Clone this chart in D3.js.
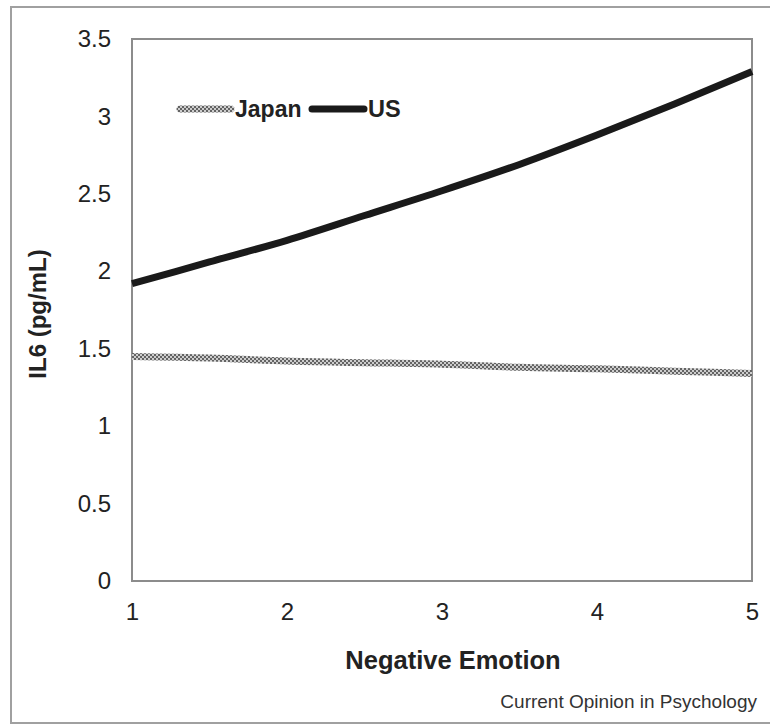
<!DOCTYPE html>
<html>
<head>
<meta charset="utf-8">
<script src="https://cdn.jsdelivr.net/npm/d3@7"></script>
<style>
  html, body { margin: 0; padding: 0; background: #fff; }
  svg { display: block; }
  text { font-family: Arial, "Liberation Sans", Helvetica, sans-serif; }
</style>
</head>
<body>
<svg id="chart" width="770" height="726"></svg>
<script>
// ---- data ----
const xValues = [1, 1.5, 2, 2.5, 3, 3.5, 4, 4.5, 5];
const usValues = [1.92, 2.06, 2.20, 2.36, 2.52, 2.69, 2.88, 3.08, 3.29];
const japanValues = [1.45, 1.44, 1.42, 1.41, 1.40, 1.38, 1.37, 1.355, 1.34];
const xTicks = [1, 2, 3, 4, 5];
const yTicks = [0, 0.5, 1, 1.5, 2, 2.5, 3, 3.5];
const seriesNames = ["Japan", "US"];
const xTitle = "Negative Emotion";
const yTitle = "IL6 (pg/mL)";
const source = "Current Opinion in Psychology";

const svg = d3.select("#chart");
const pLeft = 132, pRight = 752, pTop = 39, pBottom = 581;

const x = d3.scaleLinear().domain([1, 5]).range([pLeft, pRight]);
const y = d3.scaleLinear().domain([0, 3.5]).range([pBottom, pTop]);

// pattern for Japan line
const defs = svg.append("defs");
const pat = defs.append("pattern")
  .attr("id", "checker").attr("patternUnits", "userSpaceOnUse")
  .attr("width", 4).attr("height", 4);
pat.append("rect").attr("width", 4).attr("height", 4).attr("fill", "#cdcdcd");
pat.append("rect").attr("x", 0).attr("y", 0).attr("width", 2).attr("height", 2).attr("fill", "#636363");
pat.append("rect").attr("x", 2).attr("y", 2).attr("width", 2).attr("height", 2).attr("fill", "#636363");

// outer border
svg.append("rect").attr("x", 11).attr("y", 7).attr("width", 780).attr("height", 716)
  .attr("fill", "none").attr("stroke", "#a0a0a0").attr("stroke-width", 2);

// plot frame
svg.append("rect").attr("x", pLeft).attr("y", pTop).attr("width", pRight - pLeft).attr("height", pBottom - pTop)
  .attr("fill", "none").attr("stroke", "#8c8c8c").attr("stroke-width", 2);

// axes (labels only, no ticks)
const xAxis = d3.axisBottom(x).tickValues(xTicks).tickSize(0).tickPadding(22).tickFormat(d3.format("d"));
const gx = svg.append("g").attr("transform", `translate(0,${pBottom})`).call(xAxis);
gx.select(".domain").remove();
gx.selectAll("text").attr("font-size", 24).attr("fill", "#222").style("font-family", "Arial, 'Liberation Sans', sans-serif");

const yAxis = d3.axisLeft(y).tickValues(yTicks).tickSize(0).tickPadding(21).tickFormat(d => String(d));
const gy = svg.append("g").attr("transform", `translate(${pLeft},0)`).call(yAxis);
gy.select(".domain").remove();
gy.selectAll("text").attr("font-size", 24).attr("fill", "#222").style("font-family", "Arial, 'Liberation Sans', sans-serif");

// lines
const line = d3.line().x((d, i) => x(xValues[i])).y(d => y(d)).curve(d3.curveMonotoneX);
svg.append("path").datum(japanValues).attr("d", line)
  .attr("fill", "none").attr("stroke", "url(#checker)").attr("stroke-width", 7);
svg.append("path").datum(usValues).attr("d", line)
  .attr("fill", "none").attr("stroke", "#1a1a1a").attr("stroke-width", 7);

// legend
const lg = svg.append("g");
lg.append("line").attr("x1", 180).attr("x2", 231).attr("y1", 109).attr("y2", 109)
  .attr("stroke", "url(#checker)").attr("stroke-width", 7).attr("stroke-linecap", "round");
lg.append("text").attr("x", 235).attr("y", 117).attr("font-size", 23).attr("font-weight", "bold")
  .attr("fill", "#222").text(seriesNames[0]);
lg.append("line").attr("x1", 312).attr("x2", 364).attr("y1", 109).attr("y2", 109)
  .attr("stroke", "#1a1a1a").attr("stroke-width", 7).attr("stroke-linecap", "round");
lg.append("text").attr("x", 368).attr("y", 117).attr("font-size", 23.5).attr("font-weight", "bold")
  .attr("fill", "#222").text(seriesNames[1]);

// axis titles
svg.append("text").attr("x", 453).attr("y", 669).attr("text-anchor", "middle")
  .attr("font-size", 25.5).attr("font-weight", "bold").attr("fill", "#222").text(xTitle);
svg.append("text").attr("transform", "translate(46,314) rotate(-90)").attr("text-anchor", "middle")
  .attr("font-size", 24).attr("font-weight", "bold").attr("fill", "#222").text(yTitle);

// source
svg.append("text").attr("x", 757).attr("y", 708).attr("text-anchor", "end")
  .attr("font-size", 19).attr("fill", "#333").text(source);
</script>
</body>
</html>
